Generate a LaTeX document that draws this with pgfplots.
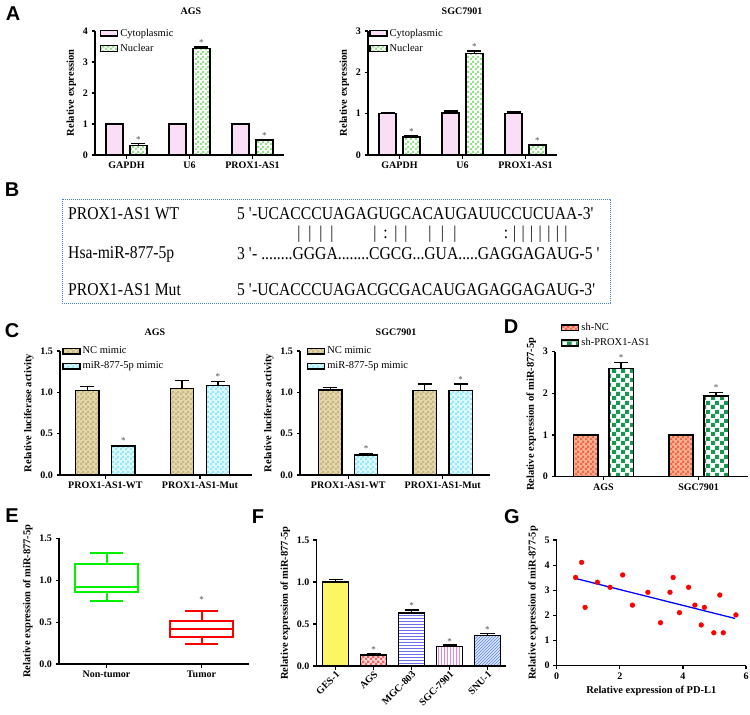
\documentclass[border=0pt]{standalone}
\usepackage{fontspec}
\setmainfont{Liberation Serif}
\newfontfamily\letterfont{Liberation Sans}
\newfontfamily\seqfont[FakeStretch=0.87]{Liberation Serif}
\usepackage{pgfplots}
\pgfplotsset{compat=1.18}
\usepgfplotslibrary{statistics}
\usetikzlibrary{patterns}

% checkerboard fills
\pgfdeclarepatternformonly{checker}{\pgfpointorigin}{\pgfpoint{5pt}{5pt}}{\pgfpoint{5pt}{5pt}}{%
  \pgfpathrectangle{\pgfpointorigin}{\pgfpoint{2.5pt}{2.5pt}}%
  \pgfpathrectangle{\pgfpoint{2.5pt}{2.5pt}}{\pgfpoint{2.5pt}{2.5pt}}%
  \pgfusepath{fill}}
\pgfdeclarepatternformonly{bigchecker}{\pgfpointorigin}{\pgfpoint{9pt}{9pt}}{\pgfpoint{9pt}{9pt}}{%
  \pgfpathrectangle{\pgfpointorigin}{\pgfpoint{4.5pt}{4.5pt}}%
  \pgfpathrectangle{\pgfpoint{4.5pt}{4.5pt}}{\pgfpoint{4.5pt}{4.5pt}}%
  \pgfusepath{fill}}

\definecolor{cyto}{RGB}{250,222,245}
\definecolor{nuclA}{RGB}{150,225,140}
\definecolor{ncfill}{RGB}{228,215,170}
\definecolor{ncpat}{RGB}{200,183,130}
\definecolor{mirfill}{RGB}{220,250,252}
\definecolor{mirpat}{RGB}{150,230,245}
\definecolor{shncfill}{RGB}{250,175,145}
\definecolor{shncpat}{RGB}{238,105,75}
\definecolor{shpx}{RGB}{25,150,80}
\definecolor{gesfill}{RGB}{252,245,100}
\definecolor{agsfill}{RGB}{255,215,215}
\definecolor{agspat}{RGB}{240,100,100}
\definecolor{mgcpat}{RGB}{110,110,235}
\definecolor{sgcpat}{RGB}{240,130,210}
\definecolor{snufill}{RGB}{220,232,255}
\definecolor{snupat}{RGB}{90,130,230}
\definecolor{egreen}{RGB}{0,240,0}
\definecolor{boxblue}{RGB}{70,130,200}

\tikzset{
  ast/.style={font=\fontsize{9}{9}\selectfont, text=black!70, inner sep=0pt, anchor=base},
  letter/.style={font=\letterfont\bfseries\fontsize{20}{20}\selectfont},
  ttl/.style={font=\bfseries\fontsize{10}{12}\selectfont},
}

\pgfplotsset{
  panel/.style={
    scale only axis, anchor=south west, clip=false,
    axis lines=left, axis line style={line width=1.3pt,-},
    tick style={black, line width=1.2pt}, major tick length=3.5pt, tick align=outside,
    tick label style={font=\bfseries\fontsize{10}{12}\selectfont},
    label style={font=\bfseries\fontsize{10.5}{12}\selectfont},
    /pgf/number format/assume math mode=true,
    ymin=0,
  },
  barpanel/.style={
    panel, ybar,
    error bars/y dir=plus, error bars/y explicit,
    error bars/error bar style={line width=1.4pt, black},
    error bars/error mark options={black, line width=1.4pt, mark size=7pt, rotate=90},
    legend style={draw=none, fill=none, anchor=north west, inner sep=0pt,
      font=\fontsize{10.5}{12}\selectfont, row sep=2.5pt, legend cell align=left},
  },
  mybar/.style={draw=black, line width=1.4pt, area legend},
  onedec/.style={yticklabel style={/pgf/number format/.cd, fixed, fixed zerofill, precision=1}},
}

\begin{document}
\begin{tikzpicture}
\useasboundingbox (0,0) rectangle (750pt,-715pt);

% ---------------- A
\node[letter] at (13pt,-14pt) {A};
\node[ttl] at (191pt,-11pt) {AGS};
\node[ttl] at (462pt,-11pt) {SGC7901};

\begin{axis}[barpanel, at={(95pt,-155pt)}, width=189pt, height=124pt,
  xmin=-0.5, xmax=2.5, ymax=4, ytick={0,1,2,3,4},
  xtick={0,1,2}, xticklabels={GAPDH,U6,PROX1-AS1},
  ylabel={Relative expression}, bar width=0.27,
  legend style={at={(0.025,1.035)}}]
\addplot[mybar, fill=cyto, bar shift=-0.19] coordinates {
  (0,1.00) +- (0,0.02) (1,1.00) +- (0,0.02) (2,1.00) +- (0,0.02)};
\addlegendentry{Cytoplasmic}
\addplot[mybar, fill=white, postaction={pattern=checker, pattern color=nuclA}, bar shift=0.19] coordinates {
  (0,0.30) +- (0,0.07) (1,3.43) +- (0,0.06) (2,0.48) +- (0,0.02)};
\addlegendentry{Nuclear}
\node[ast] at (axis cs:0.19,0.40) {*};
\node[ast] at (axis cs:1.19,3.52) {*};
\node[ast] at (axis cs:2.19,0.53) {*};
\end{axis}

\begin{axis}[barpanel, at={(368pt,-155pt)}, width=189pt, height=124pt,
  xmin=-0.5, xmax=2.5, ymax=3, ytick={0,1,2,3},
  xtick={0,1,2}, xticklabels={GAPDH,U6,PROX1-AS1},
  ylabel={Relative expression}, bar width=0.27,
  legend style={at={(0.005,1.035)}}]
\addplot[mybar, fill=cyto, bar shift=-0.19] coordinates {
  (0,1.00) +- (0,0.02) (1,1.02) +- (0,0.04) (2,1.01) +- (0,0.03)};
\addlegendentry{Cytoplasmic}
\addplot[mybar, fill=white, postaction={pattern=checker, pattern color=nuclA}, bar shift=0.19] coordinates {
  (0,0.44) +- (0,0.03) (1,2.46) +- (0,0.06) (2,0.24) +- (0,0.02)};
\addlegendentry{Nuclear}
\node[ast] at (axis cs:0.19,0.50) {*};
\node[ast] at (axis cs:1.19,2.55) {*};
\node[ast] at (axis cs:2.19,0.29) {*};
\end{axis}

% ---------------- B
\node[letter] at (12pt,-190pt) {B};
\draw[boxblue, line width=1pt, dash pattern=on 0.9pt off 1.1pt] (62pt,-199pt) rectangle (610pt,-303pt);
\begin{scope}[every node/.style={font=\seqfont\fontsize{18}{20}\selectfont, inner sep=0pt, anchor=west}]
\node at (68pt,-214pt) {PROX1-AS1 WT};
\node at (68pt,-254pt) {Hsa-miR-877-5p};
\node at (68pt,-290pt) {PROX1-AS1 Mut};
\node at (237pt,-214pt) {5 \textquotesingle-UCACCCUAGAGUGCACAUGAUUCCUCUAA-3\textquotesingle};
\node at (237pt,-254pt) {3 \textquotesingle- ........GGGA........CGCG...GUA.....GAGGAGAUG-5 \textquotesingle};
\node at (237pt,-290pt) {5 \textquotesingle-UCACCCUAGACGCGACAUGAGAGGAGAUG-3\textquotesingle};
\end{scope}
\foreach \x in {299,310,321,332,375,396,406,430,442.5,455,514.6,523.1,531.7,540.3,548.9,557.4,566}
  \node[font=\seqfont\fontsize{18}{20}\selectfont, inner sep=0pt] at (\x pt,-234pt) {\textbar};
\foreach \x in {385.5,506}
  \node[font=\seqfont\fontsize{18}{20}\selectfont, inner sep=0pt] at (\x pt,-234pt) {:};

% ---------------- C
\node[letter] at (12pt,-331pt) {C};
\node[ttl] at (155pt,-332pt) {AGS};
\node[ttl] at (396pt,-332pt) {SGC7901};

\begin{axis}[barpanel, onedec, at={(60pt,-475pt)}, width=192pt, height=124pt,
  xmin=-0.48, xmax=1.55, ymax=1.5, ytick={0,0.5,1,1.5},
  xtick={0,1}, xticklabels={PROX1-AS1-WT,PROX1-AS1-Mut},
  ylabel={Relative luciferase activity}, bar width=0.246,
  legend style={at={(0.01,1.05)}}]
\addplot[mybar, fill=ncfill, postaction={pattern=checker, pattern color=ncpat}, bar shift=-0.19] coordinates {
  (0,1.02) +- (0,0.05) (1,1.05) +- (0,0.09)};
\addlegendentry{NC mimic}
\addplot[mybar, fill=mirfill, postaction={pattern=checker, pattern color=mirpat}, bar shift=0.19] coordinates {
  (0,0.35) +- (0,0.01) (1,1.08) +- (0,0.05)};
\addlegendentry{miR-877-5p mimic}
\node[ast] at (axis cs:0.19,0.38) {*};
\node[ast] at (axis cs:1.19,1.15) {*};
\end{axis}

\begin{axis}[barpanel, onedec, at={(300pt,-475pt)}, width=190pt, height=124pt,
  xmin=-0.51, xmax=1.5, ymax=1.5, ytick={0,0.5,1,1.5},
  xtick={0,1}, xticklabels={PROX1-AS1-WT,PROX1-AS1-Mut},
  ylabel={Relative luciferase activity}, bar width=0.246,
  legend style={at={(0.035,1.05)}}]
\addplot[mybar, fill=ncfill, postaction={pattern=checker, pattern color=ncpat}, bar shift=-0.19] coordinates {
  (0,1.03) +- (0,0.03) (1,1.02) +- (0,0.08)};
\addlegendentry{NC mimic}
\addplot[mybar, fill=mirfill, postaction={pattern=checker, pattern color=mirpat}, bar shift=0.19] coordinates {
  (0,0.24) +- (0,0.02) (1,1.02) +- (0,0.08)};
\addlegendentry{miR-877-5p mimic}
\node[ast] at (axis cs:0.19,0.28) {*};
\node[ast] at (axis cs:1.19,1.12) {*};
\end{axis}

% ---------------- D
\node[letter] at (511pt,-327pt) {D};
\begin{axis}[barpanel, at={(555pt,-476.7pt)}, width=193pt, height=125pt,
  xmin=-0.51, xmax=1.52, ymax=3, ytick={0,1,2,3},
  xtick={0,1}, xticklabels={AGS,SGC7901},
  ylabel={Relative expression of miR-877-5p}, bar width=0.255,
  legend style={at={(0.03,1.245)}}]
\addplot[mybar, fill=shncfill, postaction={pattern=checker, pattern color=shncpat}, bar shift=-0.185] coordinates {
  (0,1.00) +- (0,0.02) (1,1.00) +- (0,0.02)};
\addlegendentry{sh-NC}
\addplot[mybar, fill=white, postaction={pattern=bigchecker, pattern color=shpx}, bar shift=0.185] coordinates {
  (0,2.60) +- (0,0.14) (1,1.94) +- (0,0.08)};
\addlegendentry{sh-PROX1-AS1}
\node[ast] at (axis cs:0.185,2.78) {*};
\node[ast] at (axis cs:1.185,2.06) {*};
\end{axis}

% ---------------- E
\node[letter] at (12pt,-516pt) {E};
\begin{axis}[panel, onedec, at={(59pt,-664pt)}, width=190pt, height=125.7pt,
  xmin=-0.5, xmax=1.5, ymax=1.5, ytick={0,0.5,1,1.5},
  xtick={0,1}, xticklabels={Non-tumor,Tumor},
  ylabel={Relative expression of miR-877-5p},
  boxplot/draw direction=y]
\addplot[egreen, line width=2pt, boxplot prepared={draw position=0,
  lower whisker=0.756, lower quartile=0.864, median=0.924,
  upper quartile=1.19, upper whisker=1.32, box extend=0.66, whisker extend=0.34}]
  coordinates {};
\addplot[red, line width=2pt, boxplot prepared={draw position=1,
  lower whisker=0.243, lower quartile=0.326, median=0.42,
  upper quartile=0.514, upper whisker=0.637, box extend=0.66, whisker extend=0.34}]
  coordinates {};
\node[ast] at (axis cs:1,0.73) {*};
\end{axis}

% ---------------- F
\node[letter] at (258pt,-517pt) {F};
\begin{axis}[barpanel, onedec, at={(316.5pt,-666pt)}, width=190pt, height=126pt,
  xmin=-0.5, xmax=4.5, ymax=1.5, ytick={0,0.5,1,1.5},
  xtick={0,1,2,3,4}, xticklabels={GES-1,AGS,MGC-803,SGC-7901,SNU-1},
  xticklabel style={rotate=45, anchor=north east, inner sep=0.5pt},
  ylabel={Relative expression of miR-877-5p}, bar width=0.67]
\addplot[mybar, fill=gesfill, bar shift=0] coordinates {(0,1.00) +- (0,0.03)};
\addplot[mybar, fill=agsfill, postaction={pattern=checker, pattern color=agspat}, bar shift=0] coordinates {(1,0.13) +- (0,0.015)};
\addplot[mybar, fill=white, postaction={pattern=horizontal lines, pattern color=mgcpat}, bar shift=0] coordinates {(2,0.63) +- (0,0.035)};
\addplot[mybar, fill=white, postaction={pattern=vertical lines, pattern color=sgcpat}, bar shift=0] coordinates {(3,0.23) +- (0,0.02)};
\addplot[mybar, fill=snufill, postaction={pattern=north east lines, pattern color=snupat}, bar shift=0] coordinates {(4,0.36) +- (0,0.03)};
\node[ast] at (axis cs:1,0.16) {*};
\node[ast] at (axis cs:2,0.68) {*};
\node[ast] at (axis cs:3,0.26) {*};
\node[ast] at (axis cs:4,0.40) {*};
\end{axis}

% ---------------- G
\node[letter] at (512pt,-517pt) {G};
\begin{axis}[panel, at={(556.7pt,-665.7pt)}, width=189.3pt, height=125.7pt,
  xmin=0, xmax=6, ymax=5, xtick={0,2,4,6}, ytick={0,1,2,3,4,5},
  xlabel={Relative expression of PD-L1},
  ylabel={Relative expression of miR-877-5p}]
\addplot[only marks, mark=*, mark size=2.4pt, color=red] coordinates {
  (0.60,3.51) (0.79,4.11) (0.90,2.32) (1.29,3.32) (1.69,3.12) (2.09,3.61)
  (2.40,2.41) (2.89,2.92) (3.29,1.71) (3.59,2.92) (3.69,3.51) (3.89,2.11)
  (4.18,3.12) (4.38,2.41) (4.58,1.62) (4.68,2.32) (4.98,1.31) (5.17,2.81)
  (5.28,1.31) (5.68,2.02)};
\addplot[blue, line width=1.3pt] coordinates {(0.6,3.47) (5.65,1.88)};
\end{axis}

\end{tikzpicture}
\end{document}
